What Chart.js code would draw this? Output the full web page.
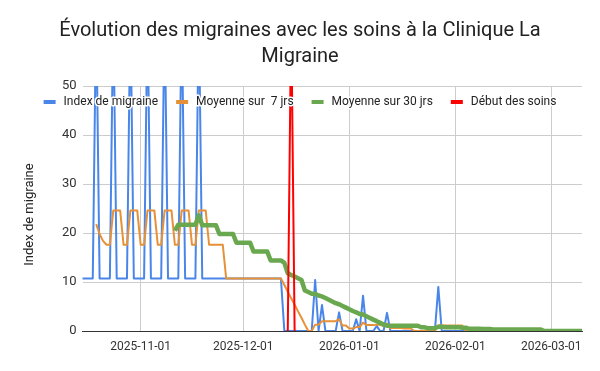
<!DOCTYPE html>
<html lang="fr">
<head>
<meta charset="utf-8">
<title>Évolution des migraines</title>
<script src="https://cdn.jsdelivr.net/npm/chart.js@4.4.1/dist/chart.umd.min.js"></script>
<style>
	html, body { margin: 0; padding: 0; background: #fff; }
	#wrap { width: 600px; height: 371px; position: relative; }
</style>
</head>
<body>
<div id="wrap"><canvas id="chart"></canvas></div>
<script>
// daily values, first day = START_DATE
const START_DATE = '2025-10-15';

const migraineIndex = [
	10.7, 10.7, 10.7, 10.7, 66, 10.7, 10.7, 10.7, 10.7, 66,
	10.7, 10.7, 10.7, 10.7, 66, 10.7, 10.7, 10.7, 10.7, 66,
	10.7, 10.7, 10.7, 10.7, 66, 10.7, 10.7, 10.7, 10.7, 66,
	10.7, 10.7, 10.7, 10.7, 66, 10.7, 10.7, 10.7, 10.7, 10.7,
	10.7, 10.7, 10.7, 10.7, 10.7, 10.7, 10.7, 10.7, 10.7, 10.7,
	10.7, 10.7, 10.7, 10.7, 10.7, 10.7, 10.7, 10.7, 10.7, 0,
	0, 0, 0, 0, 0, 0, 0, 0, 10.4, 0,
	5.3, 0, 0, 0, 0, 3.8, 0, 0, 0, 0,
	2.4, 0, 7.2, 0, 0, 0, 1, 0, 0, 3.7,
	0, 0, 0, 0, 0, 0, 0, 0, 0, 0,
	0, 0, 0, 0, 9, 0, 0, 0, 0, 0,
	0, 0, 0, 0, 0, 0, 0, 0, 0, 0,
	0, 0, 0, 0, 0, 0, 0, 0, 0, 0,
	0, 0, 0, 0, 0, 0, 0, 0, 0, 0,
	0, 0, 0, 0, 0, 0, 0
];

const avg7 = [
	null, null, null, null, 21.8, 19.8, 18.4, 17.6, 17.6, 24.6,
	24.6, 24.6, 17.6, 17.6, 24.6, 24.6, 24.6, 17.6, 17.6, 24.6,
	24.6, 24.6, 17.6, 17.6, 24.6, 24.6, 24.6, 17.6, 17.6, 24.6,
	24.6, 24.6, 17.6, 17.6, 24.6, 24.6, 24.6, 17.6, 17.6, 17.6,
	17.6, 17.6, 10.7, 10.7, 10.7, 10.7, 10.7, 10.7, 10.7, 10.7,
	10.7, 10.7, 10.7, 10.7, 10.7, 10.7, 10.7, 10.7, 10.7, 9.4,
	8.0, 6.7, 5.4, 4.0, 2.7, 1.3, 0, 0, 1.3, 1.3,
	2.0, 2.0, 2.0, 2.0, 2.0, 2.4, 1.1, 1.1, 0.5, 0.5,
	0.8, 0.8, 1.7, 1.2, 1.2, 1.2, 1.3, 1.3, 1.0, 1.5,
	0.6, 0.6, 0.6, 0.6, 0.5, 0.5, 0.5, 0, 0, 0,
	0, 0, 0, 0, 1.1, 1.1, 1.1, 1.1, 1.1, 1.1,
	1.1, 1.1, 0, 0, 0, 0, 0, 0, 0, 0,
	0, 0, 0, 0, 0, 0, 0, 0, 0, 0,
	0, 0, 0, 0, 0, 0, 0, 0, 0, 0,
	0, 0, 0, 0, 0, 0, 0
];

const avg30 = [
	null, null, null, null, null, null, null, null, null, null,
	null, null, null, null, null, null, null, null, null, null,
	null, null, null, null, null, null, null, 20.5, 21.7, 21.7,
	21.7, 21.7, 21.7, 21.7, 23.6, 21.6, 21.6, 21.6, 21.6, 21.6,
	19.8, 19.8, 19.8, 19.8, 19.8, 18.0, 18.0, 18.0, 18.0, 18.0,
	16.2, 16.2, 16.2, 16.2, 16.2, 14.4, 14.4, 14.4, 14.4, 13.9,
	11.8, 11.45, 11.1, 10.76, 10.41, 8.28, 7.94, 7.59, 7.58, 7.24,
	7.06, 6.72, 6.37, 6.03, 5.68, 5.46, 5.12, 4.77, 4.43, 4.08,
	3.81, 3.47, 3.35, 3.01, 2.66, 2.32, 2.01, 1.66, 1.32, 1.09,
	1.09, 1.09, 1.09, 1.09, 1.09, 1.09, 1.09, 1.09, 1.09, 0.75,
	0.75, 0.58, 0.58, 0.58, 0.87, 0.87, 0.75, 0.75, 0.75, 0.75,
	0.75, 0.67, 0.67, 0.44, 0.44, 0.44, 0.44, 0.41, 0.41, 0.41,
	0.29, 0.29, 0.29, 0.29, 0.29, 0.29, 0.29, 0.29, 0.29, 0.29,
	0.29, 0.29, 0.29, 0.29, 0.29, 0, 0, 0, 0, 0,
	0, 0, 0, 0, 0, 0, 0
];

// treatment start marker
const careStartDates = ['2025-12-14', '2025-12-15', '2025-12-16'];
const careStartValues = [0, 65, 0];

const monthTicks = ['2025-11-01', '2025-12-01', '2026-01-01', '2026-02-01', '2026-03-01'];

const dates = migraineIndex.map((_, i) => {
	const d = new Date(START_DATE + 'T00:00:00Z');
	d.setUTCDate(d.getUTCDate() + i);
	return d.toISOString().slice(0, 10);
});

const Y_TITLE = 'Index de migraine';

Chart.defaults.font.family = 'Roboto';
Chart.defaults.color = '#333';

// legend drawn over the plot, like the original; also the y axis title
const overlayLegend = {
	id: 'overlayLegend',
	afterDatasetsDraw(chart) {
		const ctx = chart.ctx;
		const items = chart.data.datasets;
		ctx.save();
		ctx.font = '12px Roboto';
		ctx.textBaseline = 'middle';
		const widths = items.map(d => ctx.measureText(d.label).width);
		const total = widths.reduce((a, w) => a + 20 + w, 0) + 18 * (items.length - 1);
		let x = chart.width / 2 - total / 2;
		const y = 102;
		items.forEach((d, i) => {
			ctx.fillStyle = d.borderColor;
			ctx.fillRect(x, y - 2, 12, 4);
			x += 20;
			ctx.lineWidth = 3;
			ctx.lineJoin = 'round';
			ctx.strokeStyle = '#fff';
			ctx.strokeText(d.label, x, y);
			ctx.fillStyle = '#222';
			ctx.fillText(d.label, x, y);
			x += widths[i] + 18;
		});

		// axis title, sits a little below the middle of the plot
		const area = chart.chartArea;
		ctx.translate(30, (area.top + area.bottom) / 2 + 6);
		ctx.rotate(-Math.PI / 2);
		ctx.font = '13px Roboto';
		ctx.textAlign = 'center';
		ctx.fillStyle = '#222';
		ctx.fillText(Y_TITLE, 0, 0);
		ctx.restore();
	}
};

const lineClip = { left: 2, right: 2, top: 0, bottom: 0 };

new Chart(document.getElementById('chart'), {
	type: 'line',
	data: {
		labels: dates,
		datasets: [
			{ label: 'Index de migraine', data: migraineIndex, borderColor: '#4a86e8', borderWidth: 2, order: 4 },
			{ label: 'Moyenne sur  7 jrs', data: avg7, borderColor: '#e69138', borderWidth: 2, order: 3 },
			{ label: 'Moyenne sur 30 jrs', data: avg30, borderColor: '#6aa84f', borderWidth: 4.5, order: 2 },
			{
				label: 'Début des soins',
				data: careStartDates.map((d, i) => ({ x: d, y: careStartValues[i] })),
				borderColor: '#ff0000', borderWidth: 2, order: 1
			}
		]
	},
	options: {
		responsive: true,
		maintainAspectRatio: false,
		animation: false,
		layout: { padding: { left: 9, right: 9, top: 0, bottom: 0 } },
		elements: {
			point: { radius: 0 },
			line: { tension: 0, borderJoinStyle: 'round' }
		},
		datasets: { line: { clip: lineClip, spanGaps: false, fill: false } },
		plugins: {
			legend: { display: false },
			tooltip: { enabled: false },
			title: {
				display: true,
				text: ['Évolution des migraines avec les soins à la Clinique La', 'Migraine'],
				color: '#222',
				font: { size: 20, weight: 'normal', lineHeight: 1.3 },
				padding: { top: 18, bottom: 16 }
			}
		},
		scales: {
			x: {
				afterFit: s => { s.height = 40; },
				grid: {
					drawTicks: false,
					color: c => monthTicks.includes(dates[c.index]) ? '#cccccc' : 'rgba(0,0,0,0)'
				},
				border: { color: '#333', width: 1 },
				ticks: {
					autoSkip: false,
					maxRotation: 0,
					padding: 9,
					font: { size: 12 },
					color: '#333',
					callback: (v, i) => monthTicks.includes(dates[i]) ? dates[i] : ''
				}
			},
			y: {
				min: 0,
				max: 50,
				afterFit: s => { s.width = 73.5; },
				grid: { drawTicks: false, color: '#cccccc' },
				border: { display: false },
				ticks: { stepSize: 10, padding: 6, font: { size: 13 }, color: '#333' }
			},
			// empty right gutter so the title centres on the page
			gutter: {
				type: 'linear',
				position: 'right',
				display: true,
				afterFit: s => { s.width = 9; },
				grid: { display: false },
				border: { display: false },
				ticks: { display: false }
			}
		}
	},
	plugins: [overlayLegend]
});
</script>
</body>
</html>
